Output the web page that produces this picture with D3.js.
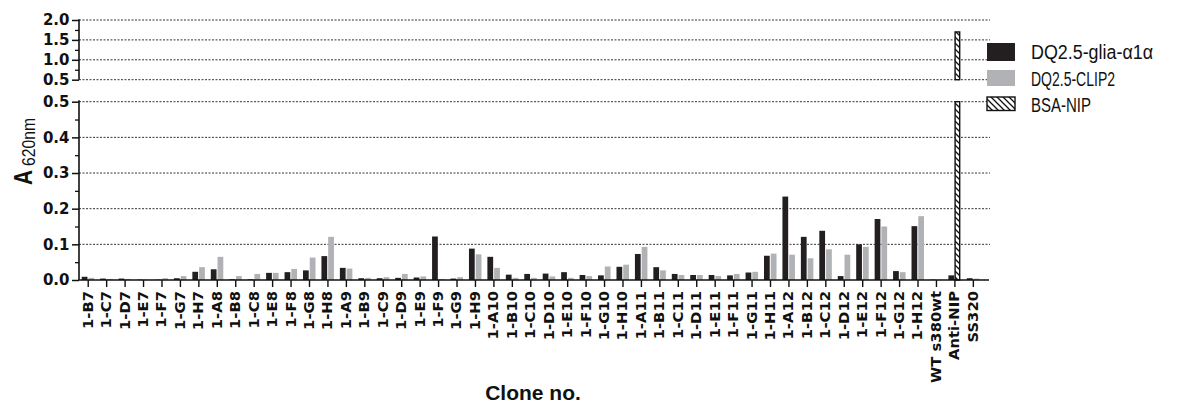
<!DOCTYPE html>
<html>
<head>
<meta charset="utf-8">
<script src="https://cdn.jsdelivr.net/npm/d3@7"></script>
<style>
  html, body { margin: 0; padding: 0; background: #fff; }
  svg { display: block; }
</style>
</head>
<body>
<svg id="chart" width="1192" height="417"></svg>
<script>
const categories = ["1-B7","1-C7","1-D7","1-E7","1-F7","1-G7","1-H7","1-A8","1-B8","1-C8","1-E8","1-F8","1-G8","1-H8","1-A9","1-B9","1-C9","1-D9","1-E9","1-F9","1-G9","1-H9","1-A10","1-B10","1-C10","1-D10","1-E10","1-F10","1-G10","1-H10","1-A11","1-B11","1-C11","1-D11","1-E11","1-F11","1-G11","1-H11","1-A12","1-B12","1-C12","1-D12","1-E12","1-F12","1-G12","1-H12","WT s380wt","Anti-NIP","SS320"];

const gliaValues = [0.009,0.004,0.004,0.001,0.001,0.005,0.023,0.030,0.002,0.002,0.020,0.022,0.027,0.067,0.034,0.005,0.005,0.006,0.007,0.122,0.004,0.088,0.065,0.015,0.017,0.018,0.022,0.014,0.013,0.037,0.073,0.036,0.017,0.014,0.014,0.013,0.021,0.068,0.234,0.121,0.138,0.011,0.100,0.171,0.025,0.151,0.001,0.013,0.005];

const clip2Values = [0.006,0.003,0.003,0.001,0.005,0.011,0.036,0.065,0.011,0.017,0.020,0.031,0.063,0.121,0.032,0.006,0.008,0.017,0.010,0.003,0.008,0.072,0.034,0.006,0.006,0.010,0.006,0.011,0.038,0.043,0.093,0.027,0.014,0.014,0.011,0.017,0.023,0.074,0.071,0.061,0.086,0.071,0.093,0.150,0.022,0.179,0.001,0.001,0.004];

const bsaNipValues = categories.map(c => c === "Anti-NIP" ? 1.70 : null);

const seriesNames = ["DQ2.5-glia-α1α", "DQ2.5-CLIP2", "BSA-NIP"];

const lowerTicks = [0, 0.1, 0.2, 0.3, 0.4, 0.5];
const lowerMinor = [0.05, 0.15, 0.25, 0.35, 0.45];
const upperTicks = [0.5, 1.0, 1.5, 2.0];
const upperMinor = [0.75, 1.25, 1.75];

const svg = d3.select("#chart");

const x0 = 79, step = 18.44;
const x = d3.scaleBand().domain(categories).range([x0, x0 + step * categories.length]).padding(0);
const xSub = d3.scaleBand().domain(["a", "b"]).range([-6.5, 6]).paddingInner(0.15);

const yLow = d3.scaleLinear().domain([0, 0.5]).range([280, 101.7]);
const yHigh = d3.scaleLinear().domain([0.5, 2.0]).range([79.7, 20]);
const gridRight = 990;

// defs: hatch
const defs = svg.append("defs");
const pat = defs.append("pattern").attr("id", "hatch").attr("patternUnits", "userSpaceOnUse")
  .attr("width", 6).attr("height", 6);
pat.append("rect").attr("width", 6).attr("height", 6).attr("fill", "#fff");
pat.append("path").attr("d", "M0,0 L6,6 M-3,3 L3,9 M3,-3 L9,3").attr("stroke", "#111").attr("stroke-width", 1.3);

// gridlines
const grid = svg.append("g").attr("stroke", "#333").attr("stroke-width", 1).attr("stroke-dasharray", "2,1.5");
lowerTicks.filter(t => t > 0).forEach(t => {
  grid.append("line").attr("x1", x0).attr("x2", gridRight).attr("y1", yLow(t)).attr("y2", yLow(t));
});
upperTicks.forEach(t => {
  grid.append("line").attr("x1", x0).attr("x2", gridRight).attr("y1", yHigh(t)).attr("y2", yHigh(t));
});

// bars
const colors = ["#231f20", "#b1b2b6"];
[gliaValues, clip2Values].forEach((vals, si) => {
  const g = svg.append("g").attr("fill", colors[si]);
  vals.forEach((v, i) => {
    if (v == null) return;
    const cx = x(categories[i]) + x.bandwidth() / 2 + xSub(si === 0 ? "a" : "b");
    const vl = Math.min(v, 0.5);
    g.append("rect").attr("x", cx).attr("width", xSub.bandwidth())
      .attr("y", yLow(vl)).attr("height", yLow(0) - yLow(vl));
    if (v > 0.5) {
      g.append("rect").attr("x", cx).attr("width", xSub.bandwidth())
        .attr("y", yHigh(v)).attr("height", yHigh(0.5) - yHigh(v));
    }
  });
});
// hatched series
const gh = svg.append("g").attr("fill", "url(#hatch)").attr("stroke", "#111").attr("stroke-width", 1.4);
bsaNipValues.forEach((v, i) => {
  if (v == null) return;
  const cx = x(categories[i]) + x.bandwidth() / 2 + 0.2;
  const w = 4.6;
  const vl = Math.min(v, 0.5);
  gh.append("rect").attr("x", cx).attr("width", w).attr("y", yLow(vl)).attr("height", yLow(0) - yLow(vl));
  if (v > 0.5) {
    gh.append("rect").attr("x", cx).attr("width", w).attr("y", yHigh(v)).attr("height", yHigh(0.5) - yHigh(v));
  }
});

// y axes
const tickFont = "'DejaVu Sans', sans-serif";
function styleYAxis(g) {
  g.select(".domain").remove();
  g.selectAll(".tick line").attr("stroke", "#111").attr("stroke-width", 1.5);
  g.selectAll(".tick text").attr("font-family", tickFont).attr("font-weight", "bold")
    .attr("font-size", 15).attr("fill", "#111").attr("x", -9.5);
}
const axLow = svg.append("g").attr("transform", `translate(${x0},0)`)
  .call(d3.axisLeft(yLow).tickValues(lowerTicks).tickFormat(d3.format(".1f")).tickSize(7));
styleYAxis(axLow);
const axHigh = svg.append("g").attr("transform", `translate(${x0},0)`)
  .call(d3.axisLeft(yHigh).tickValues(upperTicks).tickFormat(d3.format(".1f")).tickSize(7));
styleYAxis(axHigh);
svg.append("g").attr("transform", `translate(${x0},0)`)
  .call(d3.axisLeft(yLow).tickValues(lowerMinor).tickFormat("").tickSize(4))
  .call(g => { g.select(".domain").remove(); g.selectAll("line").attr("stroke", "#111").attr("stroke-width", 1.3); });
svg.append("g").attr("transform", `translate(${x0},0)`)
  .call(d3.axisLeft(yHigh).tickValues(upperMinor).tickFormat("").tickSize(4))
  .call(g => { g.select(".domain").remove(); g.selectAll("line").attr("stroke", "#111").attr("stroke-width", 1.3); });
// axis lines (broken)
svg.append("line").attr("x1", x0).attr("x2", x0).attr("y1", yLow(0)).attr("y2", yLow(0.5) - 1.5)
  .attr("stroke", "#111").attr("stroke-width", 1.6);
svg.append("line").attr("x1", x0).attr("x2", x0).attr("y1", yHigh(0.5)).attr("y2", yHigh(2.0) - 0.7)
  .attr("stroke", "#111").attr("stroke-width", 1.6);

// x axis
const axX = svg.append("g").attr("transform", `translate(0,${yLow(0)})`)
  .call(d3.axisBottom(x).tickSize(7).tickSizeOuter(0));
axX.select(".domain").remove();
axX.selectAll(".tick line").attr("stroke", "#111").attr("stroke-width", 1.4);
axX.selectAll(".tick text")
  .attr("font-family", tickFont).attr("font-weight", "bold").attr("font-size", 14.8).attr("fill", "#111")
  .attr("text-anchor", "end").attr("transform", "rotate(-90)")
  .attr("x", -11).attr("y", 0).attr("dy", "0.3em");
svg.append("line").attr("x1", x0).attr("x2", 989).attr("y1", yLow(0)).attr("y2", yLow(0))
  .attr("stroke", "#111").attr("stroke-width", 1.6);

// axis titles
svg.append("text").attr("x", 533).attr("y", 400).attr("text-anchor", "middle")
  .attr("font-family", "'Liberation Sans', Arial, sans-serif").attr("font-weight", "bold")
  .attr("font-size", 21).attr("fill", "#111").text("Clone no.");

svg.append("text").attr("transform", "translate(32,185) rotate(-90)")
  .attr("font-family", "'Liberation Sans', Arial, sans-serif").attr("font-weight", "bold")
  .attr("font-size", 26).attr("fill", "#111")
  .attr("textLength", 15).attr("lengthAdjust", "spacingAndGlyphs").text("A");
svg.append("text").attr("transform", "translate(34.5,166) rotate(-90)")
  .attr("font-family", "'Liberation Sans', Arial, sans-serif")
  .attr("font-size", 18).attr("fill", "#111")
  .attr("textLength", 48).attr("lengthAdjust", "spacingAndGlyphs").text("620nm");

// legend
const leg = svg.append("g");
const legRows = [
  {name: seriesNames[0], fill: colors[0], y0: 43, h: 18, base: 58.5, len: 122},
  {name: seriesNames[1], fill: colors[1], y0: 70, h: 16, base: 85.5, len: 84},
  {name: seriesNames[2], fill: "url(#hatch)", y0: 97, h: 13.5, base: 111.5, len: 60}
];
legRows.forEach((r, i) => {
  const rect = leg.append("rect").attr("x", 987).attr("y", r.y0).attr("width", 28).attr("height", r.h).attr("fill", r.fill);
  if (i === 2) rect.attr("stroke", "#111").attr("stroke-width", 1.4);
  leg.append("text").attr("x", 1031).attr("y", r.base)
    .attr("font-family", "'Liberation Sans Narrow', 'Liberation Sans', Arial, sans-serif")
    .attr("font-size", 20.5).attr("fill", "#111")
    .attr("textLength", r.len).attr("lengthAdjust", "spacingAndGlyphs")
    .text(r.name);
});
</script>
</body>
</html>
